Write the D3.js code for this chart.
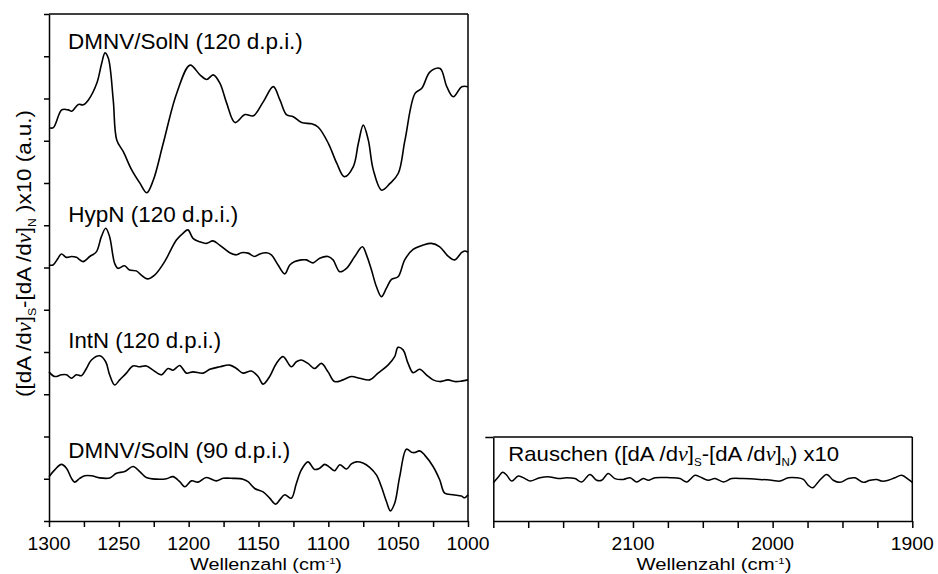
<!DOCTYPE html>
<html><head><meta charset="utf-8">
<script src="https://cdn.jsdelivr.net/npm/d3@7"></script>
<style>
body{margin:0;background:#fff}
svg{display:block}
text{font-family:"Liberation Sans",Arial,sans-serif;fill:#000}
</style>
</head><body><svg id="c" width="938" height="574"></svg>
<script>
// ---------- data ----------
const xTicksLeft = [1300,1275,1250,1225,1200,1175,1150,1125,1100,1075,1050,1025,1000];
const xLabelsLeft = [1300,1250,1200,1150,1100,1050,1000];
const xTicksRight = [2200,2175,2150,2125,2100,2075,2050,2025,2000,1975,1950,1925,1900];
const xLabelsRight = [2100,2000,1900];
const yTicksLeft = [0,1,2,3,4,5,6,7,8,9,10,11,12];
const seriesLabels = ["DMNV/SolN (120 d.p.i.)","HypN (120 d.p.i.)","IntN (120 d.p.i.)","DMNV/SolN (90 d.p.i.)"];

const dmnv120_wn = [1300,1296.9,1290.9,1286.2,1283.7,1279.0,1275.4,1271.9,1265.8,1262.3,1259.9,1257.5,1254.0,1251.5,1246.8,1240.8,1234.8,1230.0,1225.3,1218.2,1208.6,1199.0,1191.9,1187.1,1182.4,1177.6,1172.8,1166.8,1159.7,1153.7,1146.6,1139.4,1134.6,1129.8,1125.1,1119.1,1111.9,1107.2,1100.0,1094.0,1088.6,1082.1,1078.5,1075.0,1071.4,1067.8,1061.8,1055.8,1049.9,1045.1,1037.9,1033.1,1027.2,1020.0,1015.2,1010.5,1004.5,1000];
const dmnv120_val = [9.31,9.31,9.73,9.73,9.70,9.86,9.85,9.96,10.36,10.83,11.08,10.95,9.96,9.02,8.74,8.31,7.99,7.77,8.07,8.94,10.12,10.79,10.56,10.45,10.56,10.36,9.89,9.43,9.62,9.59,9.92,10.28,9.96,9.61,9.57,9.43,9.40,9.32,8.94,8.47,8.15,8.39,8.94,9.37,9.02,8.31,7.83,7.99,8.23,9.02,10.12,10.24,10.63,10.71,10.28,10.04,10.28,10.28];

const hyp120_wn = [1300,1297.1,1293.5,1291.1,1287.5,1283.9,1280.4,1275.6,1270.8,1266.1,1262.5,1259.4,1256.6,1253.0,1250.6,1245.9,1242.3,1237.5,1233.9,1229.6,1224.4,1217.2,1208.8,1204.1,1200.5,1196.9,1192.1,1187.3,1182.6,1177.8,1170.6,1165.8,1162.3,1157.5,1152.7,1149.1,1144.3,1140.8,1136.0,1131.2,1127.6,1124.0,1119.3,1115.7,1110.9,1106.2,1100.2,1096.6,1091.8,1087.0,1081.1,1075.6,1072.7,1069.1,1065.6,1062.0,1058.4,1054.8,1050.1,1045.3,1039.3,1032.2,1026.2,1020.2,1014.3,1009.5,1004.7,1002.4,1000];
const hyp120_val = [6.06,6.06,6.22,6.32,6.24,6.26,6.24,6.14,6.26,6.37,6.73,6.93,6.73,6.10,5.98,6.04,5.94,5.92,5.82,5.73,5.82,6.14,6.65,6.81,6.89,6.69,6.61,6.57,6.63,6.53,6.35,6.30,6.35,6.34,6.26,6.32,6.35,6.30,6.06,5.85,6.06,6.14,6.18,6.18,6.11,6.22,6.26,6.18,5.90,5.98,6.26,6.49,6.30,5.94,5.55,5.31,5.51,5.72,5.78,6.18,6.43,6.53,6.57,6.49,6.27,6.18,6.35,6.39,6.36];

const int120_wn = [1300,1295.9,1291.1,1287.5,1283.9,1280.4,1276.8,1273.2,1269.6,1263.7,1259.4,1256.6,1253.0,1249.4,1244.6,1239.9,1235.1,1230.3,1225.5,1219.5,1214.8,1211.2,1206.4,1201.6,1196.9,1189.7,1184.9,1177.8,1170.6,1165.8,1161.1,1155.1,1150.3,1146.7,1142.0,1137.2,1132.4,1126.5,1122.9,1119.3,1114.6,1109.8,1105.0,1100.2,1095.5,1089.5,1083.5,1077.6,1070.4,1064.4,1057.3,1052.5,1050.1,1046.5,1042.9,1039.3,1034.6,1029.8,1025.0,1020.2,1014.3,1009.5,1004.7,1000];
const int120_val = [3.53,3.42,3.46,3.46,3.38,3.46,3.44,3.61,3.81,3.91,3.77,3.46,3.22,3.34,3.50,3.67,3.65,3.67,3.57,3.46,3.61,3.57,3.68,3.50,3.53,3.50,3.59,3.65,3.69,3.61,3.50,3.55,3.42,3.24,3.42,3.73,3.89,3.65,3.77,3.81,3.73,3.61,3.73,3.53,3.30,3.34,3.42,3.38,3.34,3.50,3.69,3.89,4.11,4.05,3.73,3.51,3.59,3.46,3.34,3.30,3.34,3.30,3.31,3.34];

const dmnv90_wn = [1300,1295.9,1291.1,1287.5,1283.9,1281.6,1278.0,1274.4,1269.6,1263.7,1256.5,1251.7,1245.8,1239.8,1235.0,1230.3,1223.1,1215.9,1211.2,1206.4,1202.8,1198.0,1193.3,1187.3,1180.2,1175.4,1168.2,1161.1,1157.5,1152.7,1146.7,1142.0,1137.7,1134.8,1131.2,1126.5,1122.9,1119.3,1114.6,1109.8,1106.2,1102.6,1099.0,1095.5,1091.8,1087.0,1083.5,1079.9,1075.2,1070.4,1065.6,1062.0,1058.4,1055.6,1052.5,1048.9,1044.1,1040.5,1038.2,1034.6,1031.0,1025.0,1020.2,1016.7,1010.7,1004.7,1002.4,1000];
const dmnv90_val = [1.05,1.21,1.34,1.25,1.01,0.92,1.01,1.07,1.07,1.02,1.02,1.13,1.17,1.29,1.17,1.03,0.99,1.00,1.05,0.93,0.81,0.95,0.92,1.03,0.95,1.01,1.01,0.99,0.93,0.77,0.69,0.54,0.40,0.50,0.62,0.54,0.89,1.21,1.40,1.22,1.25,1.34,1.27,1.19,1.33,1.23,1.35,1.40,1.37,1.27,1.09,0.81,0.46,0.24,0.42,1.05,1.70,1.63,1.62,1.66,1.56,1.29,0.97,0.66,0.62,0.59,0.55,0.62];

const noise_wn = [2200,2196.4,2193.3,2190.4,2186.8,2182.1,2177.3,2173.7,2166.6,2159.4,2153.5,2147.5,2141.5,2136.7,2130.8,2126.0,2122.4,2117.7,2112.9,2106.9,2102.1,2097.3,2092.6,2089.0,2084.2,2073.5,2066.3,2061.5,2055.6,2052.0,2046.1,2041.3,2035.3,2029.3,2021.0,2009.1,2000.7,1994.7,1988.8,1982.8,1978.0,1974.5,1971.3,1967.3,1961.3,1956.6,1951.8,1945.8,1941.0,1935.1,1930.3,1925.5,1921.9,1917.2,1912.4,1907.6,1902.8,1900];
const noise_val = [0.91,1.05,1.16,1.09,0.95,1.07,1.01,0.95,1.03,1.05,1.01,1.03,1.01,0.93,1.11,0.97,0.97,1.13,1.01,0.99,1.03,0.93,1.01,0.97,1.03,1.03,1.01,0.93,1.09,1.05,0.97,1.01,0.93,1.01,1.01,0.99,0.97,0.95,1.03,1.03,0.99,0.85,0.79,0.93,1.11,0.97,0.92,1.01,1.03,0.92,0.97,0.99,0.95,0.97,1.03,1.09,0.99,0.92];

// ---------- layout ----------
const svg = d3.select("#c");
const L = {x0:49, x1:468, y0:14, y1:521};
const R = {x0:493.3, x1:912.3, y0:437, y1:521};
const xL = d3.scaleLinear().domain([1300,1000]).range([L.x0, L.x1]);
const yL = d3.scaleLinear().domain([0,12]).range([L.y1, L.y0]);
const xR = d3.scaleLinear().domain([2200,1900]).range([R.x0, R.x1]);
const yR = d3.scaleLinear().domain([0,2]).range([R.y1, R.y0]);

const SW = 1.5;
function fit(t, w){
  const len = t.node().getComputedTextLength();
  return len > 0 ? w/len : 1;
}
function placeText(txt, x, y, size, width, anchor){
  const t = svg.append("text").attr("font-size", size).attr("text-anchor", anchor||"start").text(txt);
  const s = width ? fit(t, width) : 1;
  t.attr("transform", `translate(${x},${y}) scale(${s},1)`);
  return t;
}

// Left panel frame
const gL = svg.append("g");
gL.append("g").attr("transform",`translate(0,${L.y1})`)
  .call(d3.axisBottom(xL).tickValues(xTicksLeft).tickSize(6).tickSizeOuter(0).tickFormat(()=>""))
  .call(g=>g.selectAll("path,line").attr("stroke","#000").attr("stroke-width",SW));
gL.append("g").attr("transform",`translate(${L.x0},0)`)
  .call(d3.axisLeft(yL).tickValues(yTicksLeft).tickSize(5).tickSizeOuter(0).tickFormat(()=>""))
  .call(g=>g.selectAll("path,line").attr("stroke","#000").attr("stroke-width",SW));
gL.append("line").attr("x1",L.x0).attr("x2",L.x1).attr("y1",L.y0).attr("y2",L.y0).attr("stroke","#000").attr("stroke-width",SW);
gL.append("line").attr("x1",L.x1).attr("x2",L.x1).attr("y1",L.y0).attr("y2",L.y1).attr("stroke","#000").attr("stroke-width",SW);

// Right panel frame
const gR = svg.append("g");
gR.append("g").attr("transform",`translate(0,${R.y1})`)
  .call(d3.axisBottom(xR).tickValues(xTicksRight).tickSize(7).tickSizeOuter(0).tickFormat(()=>""))
  .call(g=>g.selectAll("path,line").attr("stroke","#000").attr("stroke-width",SW));
gR.append("g").attr("transform",`translate(${R.x0},0)`)
  .call(d3.axisLeft(yR).tickValues([2]).tickSize(8).tickSizeOuter(0).tickFormat(()=>""))
  .call(g=>g.selectAll("path,line").attr("stroke","#000").attr("stroke-width",SW));
gR.append("line").attr("x1",R.x0).attr("x2",R.x1).attr("y1",R.y0).attr("y2",R.y0).attr("stroke","#000").attr("stroke-width",SW);
gR.append("line").attr("x1",R.x1).attr("x2",R.x1).attr("y1",R.y0).attr("y2",R.y1).attr("stroke","#000").attr("stroke-width",SW);

// Tick labels
xLabelsLeft.forEach(v=>placeText(String(v), xL(v), 550, 18, 43, "middle"));
xLabelsRight.forEach(v=>placeText(String(v), xR(v), 550, 18, 43, "middle"));

// Axis titles
function wellenzahl(cx, y, width){
  const t = svg.append("text").attr("font-size",17).attr("text-anchor","middle");
  t.append("tspan").text("Wellenzahl (cm");
  t.append("tspan").attr("font-size",9.5).attr("dy",-6.5).text("-1");
  t.append("tspan").attr("dy",6.5).text(")");
  const s = fit(t, width);
  t.attr("transform",`translate(${cx},${y}) scale(${s},1)`);
}
wellenzahl(266, 570, 152);
wellenzahl(714, 570, 155);

// Y label (rotated)
(function(){
  const t = svg.append("text").attr("font-size",20).attr("text-anchor","middle");
  const nu = (sel)=>sel.append("tspan").attr("font-family","'Liberation Serif','DejaVu Serif',serif").attr("font-style","italic").text("ν");
  t.append("tspan").text("([dA /d"); nu(t); t.append("tspan").text("]");
  t.append("tspan").attr("font-size",11).attr("dy",5).text("S");
  t.append("tspan").attr("dy",-5).text("-[dA /d"); nu(t); t.append("tspan").text("]");
  t.append("tspan").attr("font-size",11).attr("dy",5).text("N");
  t.append("tspan").attr("dy",-5).text(" )x10 (a.u.)");
  const s = fit(t, 287);
  t.attr("transform",`translate(31,253.5) rotate(-90) scale(${s},1)`);
})();

// Series labels
placeText(seriesLabels[0], 68, 49, 22, 235);
placeText(seriesLabels[1], 68.3, 221.7, 22, 170);
placeText(seriesLabels[2], 68.3, 348.3, 22, 153);
placeText(seriesLabels[3], 68.3, 458.3, 22, 222);

// Right panel label
(function(){
  const t = svg.append("text").attr("font-size",21);
  const nu = (sel)=>sel.append("tspan").attr("font-family","'Liberation Serif','DejaVu Serif',serif").attr("font-style","italic").text("ν");
  t.append("tspan").text("Rauschen ([dA /d"); nu(t); t.append("tspan").text("]");
  t.append("tspan").attr("font-size",11).attr("dy",5).text("S");
  t.append("tspan").attr("dy",-5).text("-[dA /d"); nu(t); t.append("tspan").text("]");
  t.append("tspan").attr("font-size",11).attr("dy",5).text("N");
  t.append("tspan").attr("dy",-5).text(") x10");
  const s = fit(t, 331);
  t.attr("transform",`translate(508.3,461) scale(${s},1)`);
})();

// Curves
const lineL = d3.line().x(d=>xL(d[0])).y(d=>yL(d[1])).curve(d3.curveCatmullRom.alpha(0.5));
const lineR = d3.line().x(d=>xR(d[0])).y(d=>yR(d[1])).curve(d3.curveCatmullRom.alpha(0.5));
[[dmnv120_wn,dmnv120_val],[hyp120_wn,hyp120_val],[int120_wn,int120_val],[dmnv90_wn,dmnv90_val]].forEach(([w,v])=>{
  svg.append("path").attr("d", lineL(d3.zip(w,v))).attr("fill","none").attr("stroke","#000").attr("stroke-width",1.6).attr("stroke-linejoin","round");
});
svg.append("path").attr("d", lineR(d3.zip(noise_wn,noise_val))).attr("fill","none").attr("stroke","#000").attr("stroke-width",1.5).attr("stroke-linejoin","round");
</script>
</body></html>
